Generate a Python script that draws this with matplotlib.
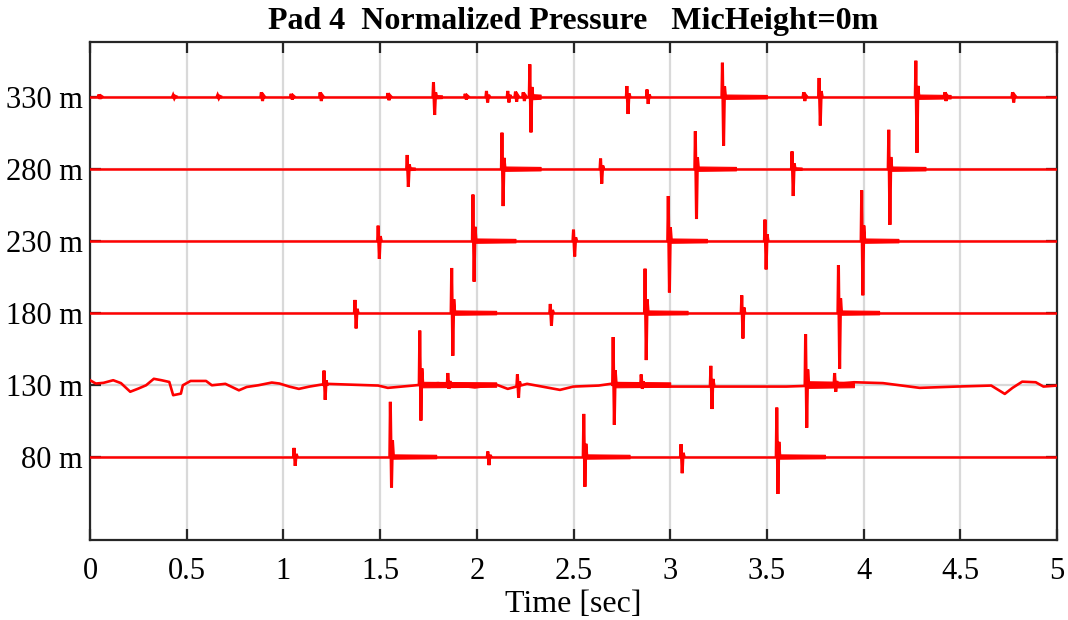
import numpy as np
import matplotlib

matplotlib.use("Agg")
import matplotlib.pyplot as plt

# channel offsets (m) and labels
offsets = [80, 130, 180, 230, 280, 330]
ytick_labels = ["80 m", "130 m", "180 m", "230 m", "280 m", "330 m"]
xticks = [0, 0.5, 1, 1.5, 2, 2.5, 3, 3.5, 4, 4.5, 5]
xtick_labels = ["0", "0.5", "1", "1.5", "2", "2.5", "3", "3.5", "4", "4.5", "5"]

# pulse arrivals per channel: time (s), positive peak, negative peak (normalized units)
spike_t = {
    80:  [1.055, 1.553, 2.057, 2.553, 3.056, 3.551],
    130: [1.21, 1.705, 2.21, 2.705, 3.21, 3.70, 1.85, 2.85, 3.85],
    180: [1.37, 1.87, 2.38, 2.87, 3.37, 3.87],
    230: [1.49, 1.98, 2.50, 2.99, 3.49, 3.99],
    280: [1.64, 2.13, 2.64, 3.13, 3.63, 4.13],
    330: [1.776, 2.274, 2.776, 3.27, 3.77, 4.27,
          0.886, 1.04, 1.19, 1.54, 1.94, 2.05, 2.16, 2.20, 2.24, 2.88, 3.69,
          4.42, 4.77, 0.046, 0.43, 0.66],
}
spike_up = {
    80:  [6.0, 38.0, 3.5, 29.6, 8.6, 34.0],
    130: [9.7, 37.5, 7.0, 33.0, 13.0, 35.0, 8.0, 7.0, 8.0],
    180: [8.8, 31.0, 6.0, 30.5, 12.0, 33.0],
    230: [10.4, 32.0, 7.6, 31.0, 14.6, 35.0],
    280: [9.5, 25.0, 7.0, 26.0, 12.0, 27.0],
    330: [10.0, 22.5, 7.4, 23.6, 13.0, 25.0,
          3.0, 2.0, 3.0, 2.5, 2.0, 4.0, 4.0, 3.5, 3.0, 5.0, 3.0,
          3.0, 3.0, 1.5, 1.0, 1.0],
}
spike_down = {
    80:  [6.5, 21.5, 6.0, 21.0, 11.6, 26.0],
    130: [10.6, 25.0, 9.0, 28.0, 17.0, 30.0, 3.0, 3.0, 5.0],
    180: [11.0, 30.0, 9.0, 33.0, 18.0, 39.0],
    230: [12.7, 28.5, 11.0, 36.0, 20.0, 38.0],
    280: [12.7, 26.0, 10.4, 35.0, 19.0, 39.0],
    330: [12.7, 24.8, 12.0, 34.0, 20.0, 39.0,
          3.0, 2.0, 3.0, 2.5, 2.0, 4.0, 4.0, 3.5, 3.0, 5.0, 3.0,
          3.0, 4.0, 1.5, 1.0, 1.0],
}

# coda / ringing after each arrival: start, end, half-width
ring_t0 = {80: [1.56, 2.56, 3.56], 130: [1.71, 2.71, 3.71], 180: [1.88, 2.88, 3.88],
           230: [1.99, 2.99, 3.99], 280: [2.14, 3.14, 4.14, 1.65, 3.64],
           330: [1.78, 2.28, 3.28, 4.28]}
ring_t1 = {80: [1.79, 2.79, 3.80], 130: [2.10, 3.00, 3.95], 180: [2.10, 3.09, 4.08],
           230: [2.20, 3.19, 4.18], 280: [2.33, 3.34, 4.32, 1.68, 3.68],
           330: [1.82, 2.33, 3.50, 4.45]}
ring_amp = {80: [1.5, 1.5, 1.5], 130: [1.9, 1.9, 2.3], 180: [1.5, 1.5, 1.5],
            230: [1.5, 1.5, 1.5], 280: [1.5, 1.5, 1.5, 1.0, 1.0],
            330: [1.2, 1.8, 1.5, 1.5]}

# slow baseline wander of the 130 m channel
wander_t = [0.0, 0.03, 0.07, 0.12, 0.16, 0.208, 0.25, 0.29, 0.33, 0.37, 0.41, 0.43,
            0.47, 0.48, 0.52, 0.60, 0.63, 0.70, 0.77, 0.81, 0.87, 0.94, 0.98, 1.03,
            1.08, 1.135, 1.22, 1.49, 1.54, 1.67, 1.80, 1.99, 2.10, 2.16, 2.26, 2.43,
            2.50, 2.63, 2.72, 2.98, 3.60, 3.80, 3.95, 4.10, 4.29, 4.48, 4.66, 4.73,
            4.77, 4.82, 4.89, 4.93, 5.0]
wander_v = [3.0, 0.7, 1.2, 3.0, 1.0, -5.0, -2.8, -0.5, 4.0, 3.0, 1.8, -7.4,
            -6.3, -0.5, 2.5, 2.5, -0.5, 0.5, -4.0, -1.7, -0.5, 1.4, 0.7, -1.4,
            -3.0, -1.4, 0.5, -0.7, -2.3, -0.7, 1.0, -2.0, 0.0, -3.0, 0.5, -3.7,
            -1.4, -0.7, 1.0, -1.4, -1.4, -0.5, 1.6, 1.0, -2.3, -1.4, -0.7, -6.5,
            -2.3, 2.0, 1.6, -1.4, -0.7]

red = "#ff0000"
plt.rcParams["font.family"] = ["Liberation Serif", "DejaVu Serif"]

fig = plt.figure(figsize=(10.68, 6.2), dpi=100)
ax = fig.add_axes([90 / 1068, 1 - 540 / 620, 967 / 1068, 498 / 620])

for off in offsets:
    if off == 130:
        ax.plot(wander_t, np.array(wander_v) + off, color=red, lw=1.9, zorder=3)
    else:
        ax.plot([0, 5], [off, off], color=red, lw=1.8, zorder=3)

    for t0, t1, a in zip(ring_t0[off], ring_t1[off], ring_amp[off]):
        ax.fill_between([t0, t1], [off - a, off - 0.8 * a], [off + a, off + 0.8 * a],
                        color=red, lw=0.8, zorder=3)

    for t, up, dn in zip(spike_t[off], spike_up[off], spike_down[off]):
        ax.plot([t - 0.003, t, t + 0.006, t + 0.011, t + 0.016],
                [off, off + up, off - dn, off + 0.3 * up, off],
                color=red, lw=2.2, solid_joinstyle="miter", zorder=4)

ax.set_xlim(0, 5)
ax.set_ylim(22, 368)
ax.set_xticks(xticks)
ax.set_xticklabels(xtick_labels)
ax.set_yticks(offsets)
ax.set_yticklabels(ytick_labels)
ax.grid(True, color="#d9d9d9", lw=1.6, zorder=0)
ax.set_axisbelow(True)

for s in ax.spines.values():
    s.set_linewidth(1.6)
    s.set_color("#262626")
ax.tick_params(direction="in", length=8, width=1.6, color="#262626",
               top=True, right=True, labelsize=22)
ax.tick_params(axis="x", pad=12)
ax.tick_params(axis="y", pad=5)

ax.set_xlabel("Time [sec]", fontsize=23, labelpad=3)
ax.set_title("Pad 4  Normalized Pressure   MicHeight=0m", fontsize=23,
             fontweight="bold", pad=9)

fig.savefig("out.png", dpi=100)
